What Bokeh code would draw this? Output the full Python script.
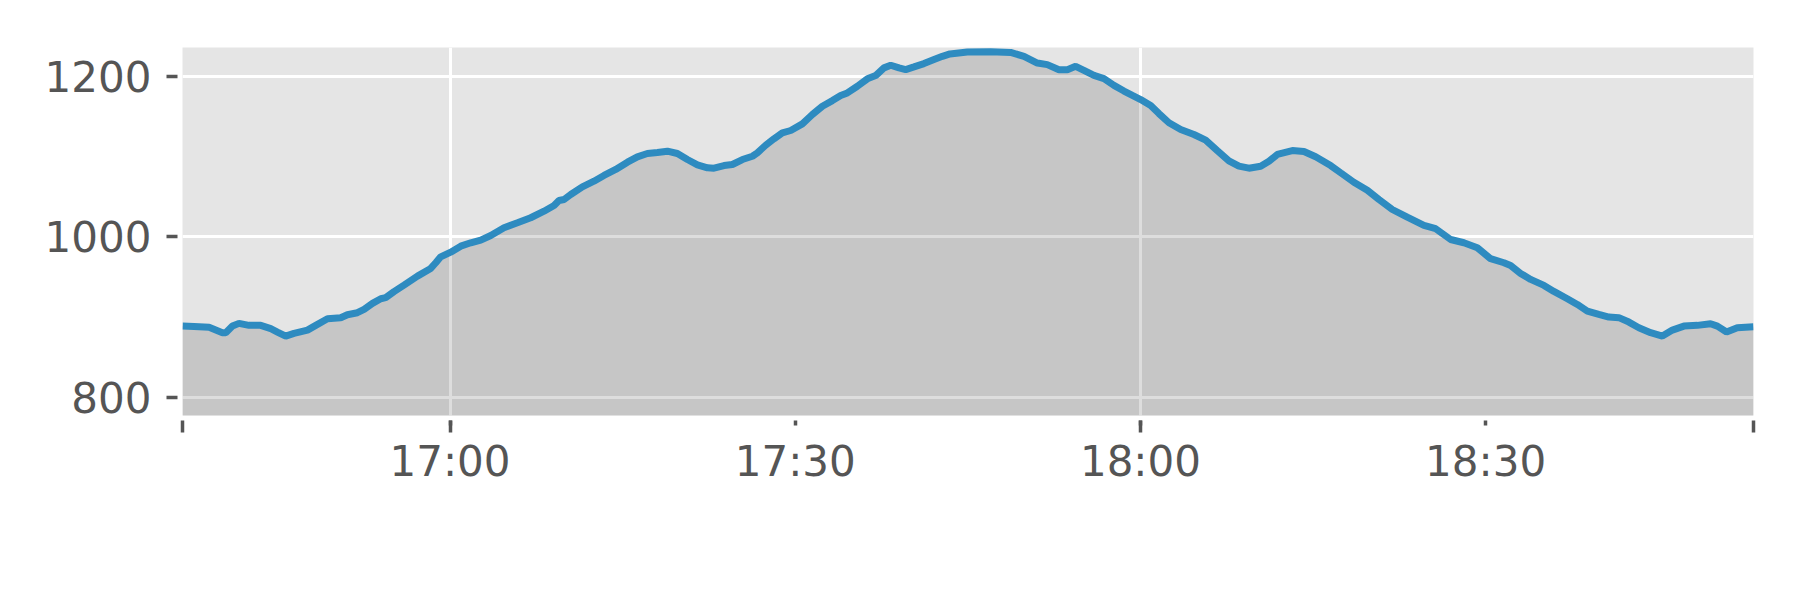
from bokeh.plotting import figure
from bokeh.models import Range1d, FixedTicker, ColumnDataSource
from bokeh.embed import file_html
from bokeh.resources import INLINE

# Time in minutes after 16:00 and the plotted value
minutes = [36.75, 37.75, 39.06, 40.22, 40.51, 41.09, 41.66, 42.53, 43.55, 44.42,
           45.0, 45.72, 46.44, 47.61, 48.33, 49.35, 50.5, 51.08, 51.95, 52.53,
           53.26, 53.98, 54.41, 55.13, 56.0, 57.17, 58.32, 58.76, 59.19, 60.06,
           60.93, 61.8, 62.67, 63.54, 64.69, 65.86, 67.01, 68.17, 69.04, 69.47,
           69.91, 70.49, 71.5, 72.51, 73.38, 74.4, 75.42, 76.28, 77.15, 78.02,
           78.89, 79.76, 80.63, 81.5, 82.37, 82.94, 83.81, 84.54, 85.41, 86.28,
           86.71, 87.43, 88.15, 88.88, 89.61, 90.62, 91.49, 92.36, 93.23, 93.95,
           94.53, 95.4, 96.27, 96.99, 97.71, 98.3, 99.02, 99.6, 100.32, 101.19,
           102.06, 102.79, 103.45, 104.96, 106.98, 108.72, 109.88, 111.04, 111.91, 112.92,
           113.65, 114.37, 115.09, 115.96, 116.83, 117.7, 118.57, 119.3, 120.02, 120.89,
           121.61, 122.48, 123.5, 124.65, 125.67, 126.68, 127.69, 128.56, 129.43, 130.45,
           131.17, 131.9, 133.2, 134.21, 135.23, 136.53, 137.4, 138.55, 139.72, 140.73,
           141.89, 143.19, 144.64, 145.66, 146.96, 148.11, 149.28, 150.43, 151.59, 152.17,
           153.04, 153.91, 155.07, 155.93, 157.1, 157.97, 158.84, 159.84, 160.71, 161.58,
           162.45, 163.32, 164.34, 165.36, 166.23, 167.23, 168.4, 169.55, 170.14, 170.94,
           171.87, 173.28]
values = [888.6, 888.0, 887.0, 880.4, 880.4, 888.6, 892.0, 889.5, 889.5, 885.4,
          881.2, 876.1, 879.5, 883.6, 889.5, 897.8, 899.0, 902.8, 905.3, 909.4,
          916.9, 922.7, 924.0, 931.5, 939.7, 950.9, 960.5, 967.6, 975.0, 980.8,
          988.3, 992.5, 995.8, 1001.6, 1011.2, 1017.4, 1023.7, 1031.9, 1039.0, 1045.2,
          1046.5, 1052.7, 1062.3, 1069.3, 1076.4, 1083.9, 1093.0, 1099.7, 1103.8, 1105.1,
          1106.7, 1103.8, 1096.3, 1089.7, 1086.0, 1085.5, 1088.8, 1090.1, 1096.3, 1100.4,
          1104.6, 1114.1, 1122.1, 1129.6, 1132.5, 1140.8, 1152.4, 1162.8, 1169.8, 1176.1,
          1179.4, 1187.7, 1196.9, 1201.0, 1210.6, 1213.9, 1210.6, 1208.5, 1211.8, 1215.9,
          1220.9, 1225.0, 1228.0, 1230.4, 1230.8, 1229.9, 1224.9, 1216.6, 1214.6, 1208.3,
          1208.3, 1212.5, 1207.5, 1201.2, 1197.1, 1188.8, 1181.7, 1176.3, 1171.1, 1163.6,
          1153.6, 1142.1, 1133.7, 1127.5, 1120.4, 1107.5, 1094.7, 1088.0, 1085.5, 1088.0,
          1094.2, 1102.6, 1107.5, 1106.3, 1099.7, 1088.8, 1079.8, 1068.0, 1058.1, 1046.5,
          1034.0, 1024.4, 1014.1, 1010.0, 996.6, 992.5, 986.3, 972.6, 967.6, 964.2,
          954.3, 946.8, 939.3, 931.8, 922.7, 915.6, 907.3, 903.2, 899.8, 899.1,
          893.6, 886.6, 880.4, 876.1, 883.6, 888.6, 889.5, 891.6, 888.6, 881.2,
          886.6, 887.9]

FILL_BASE = 0
x_start, x_end = 36.75, 173.28
y_start, y_end = 777.1, 1236.0

# labelled ticks (short marks) and long marks (edges and full hours)
labelled_x_ticks = [60, 90, 120, 150]
x_tick_labels = {60: "17:00", 90: "17:30", 120: "18:00", 150: "18:30"}
long_x_marks = [x_start, 60, 120, x_end]
x_grid_ticks = [60, 120]
y_ticks = [800, 1000, 1200]

FONT = "DejaVu Sans"
TXT = "#555555"

p = figure(width=1800, height=600, output_backend="svg", toolbar_location=None,
           x_range=Range1d(x_start, x_end), y_range=Range1d(y_start, y_end),
           min_border_left=182, min_border_right=47, min_border_top=47,
           min_border_bottom=185)
p.background_fill_color = "#E5E5E5"
p.border_fill_color = "white"
p.outline_line_color = None

src = ColumnDataSource(dict(x=minutes, y=values, base=[FILL_BASE] * len(minutes)))
p.varea(x="x", y1="base", y2="y", source=src, fill_color="black", fill_alpha=0.135)
p.line(x="x", y="y", source=src, line_color="#2E8BC0", line_width=7)

# grids
p.xgrid.ticker = FixedTicker(ticks=x_grid_ticks)
p.ygrid.ticker = FixedTicker(ticks=y_ticks)
for g in (p.xgrid, p.ygrid):
    g.grid_line_color = "white"
    g.grid_line_width = 3

# x axis
xa = p.xaxis[0]
xa.ticker = FixedTicker(ticks=labelled_x_ticks, minor_ticks=long_x_marks)
xa.major_label_overrides = x_tick_labels
xa.axis_line_color = None
xa.major_tick_line_color = TXT
xa.minor_tick_line_color = TXT
xa.major_tick_line_width = 3.5
xa.minor_tick_line_width = 3.5
xa.major_tick_in = -5
xa.major_tick_out = 10
xa.minor_tick_in = -5
xa.minor_tick_out = 17
xa.major_label_standoff = 4
xa.major_label_text_font = FONT
xa.major_label_text_font_size = "42px"
xa.major_label_text_color = TXT

# y axis
ya = p.yaxis[0]
ya.ticker = FixedTicker(ticks=y_ticks)
ya.axis_line_color = None
ya.major_tick_line_color = TXT
ya.major_tick_line_width = 3.5
ya.major_tick_in = -5
ya.major_tick_out = 16
ya.minor_tick_line_color = None
ya.major_label_standoff = 15
ya.major_label_text_font = FONT
ya.major_label_text_font_size = "42px"
ya.major_label_text_color = TXT

open("out.html", "w").write(file_html(p, INLINE))
